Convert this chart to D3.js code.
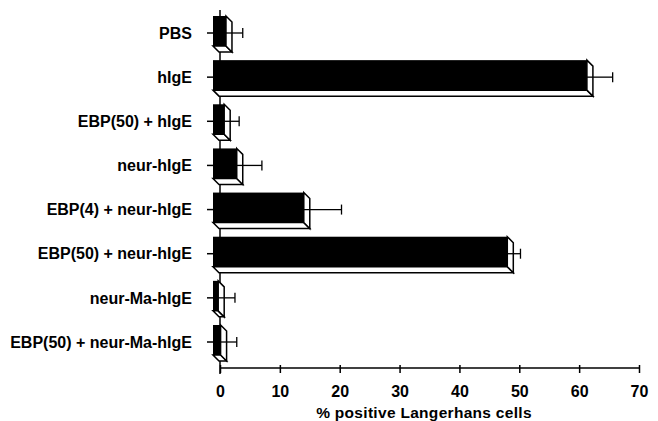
<!DOCTYPE html>
<html>
<head>
<meta charset="utf-8">
<script src="https://cdn.jsdelivr.net/npm/d3@7"></script>
<style>
  body { margin: 0; background: #fff; }
  text { font-family: "Liberation Sans", Arial, sans-serif; font-weight: bold; fill: #000; }
</style>
</head>
<body>
<svg id="chart" width="658" height="421"></svg>
<script>
var categories = ['PBS', 'hIgE', 'EBP(50) + hIgE', 'neur-hIgE', 'EBP(4) + neur-hIgE',
  'EBP(50) + neur-hIgE', 'neur-Ma-hIgE', 'EBP(50) + neur-Ma-hIgE'];
var means = [2, 62.3, 1.7, 3.8, 15, 49, 0.7, 1.1];
var errors = [1.8, 3.3, 1.5, 3.2, 5.3, 1.2, 1.8, 1.7];
var xTicks = [0, 10, 20, 30, 40, 50, 60, 70];
var xTitle = '% positive Langerhans cells';

var svg = d3.select('#chart');
var depth = 6;   // offset of the 3d side faces

var x = d3.scaleLinear().domain([0, 70]).range([220, 639]);
var y = d3.scalePoint().domain(categories).range([33, 342]);

//vertical axis line, bars are drawn over it
svg.append('line')
  .attr('x1', x(0)).attr('x2', x(0))
  .attr('y1', 10).attr('y2', 374)
  .attr('stroke', '#000').attr('stroke-width', 1.5);

//category ticks and labels
var cat = svg.append('g');
cat.selectAll('line').data(categories).enter().append('line')
  .attr('x1', x(0) - 13).attr('x2', x(0) - 6)
  .attr('y1', function (d) { return y(d); })
  .attr('y2', function (d) { return y(d); })
  .attr('stroke', '#000').attr('stroke-width', 1.5);
cat.selectAll('text').data(categories).enter().append('text')
  .attr('x', 192)
  .attr('y', function (d) { return y(d); })
  .attr('dy', '0.36em')
  .attr('text-anchor', 'end')
  .style('font-size', '16px')
  .text(function (d) { return d; });

//x axis
var xAxis = svg.append('g').attr('transform', 'translate(0,368)')
  .call(d3.axisBottom(x).tickValues(xTicks).tickSize(5).tickPadding(13).tickFormat(d3.format('d')));
xAxis.select('.domain').attr('stroke-width', 1.5).attr('d', 'M' + x(0) + ',0H' + x(70));
xAxis.selectAll('.tick line').attr('stroke-width', 1.5).attr('y1', -3);
xAxis.selectAll('.tick text')
  .style('font-family', '"Liberation Sans", Arial, sans-serif')
  .style('font-weight', 'bold')
  .style('font-size', '16px');

svg.append('text')
  .attr('x', 424).attr('y', 418)
  .attr('text-anchor', 'middle')
  .style('font-size', '15.5px')
  .style('letter-spacing', '0.3px')
  .text(xTitle);

//3d bars
var rows = categories.map(function (c, i) { return {cat: c, v: means[i], e: errors[i]}; });
var bar = svg.append('g').selectAll('g').data(rows).enter().append('g');

function face(pts) { return 'M' + pts.map(function (p) { return p.join(','); }).join('L') + 'Z'; }

bar.each(function (d) {
  var g = d3.select(this);
  var c = y(d.cat);
  var x0 = x(0) - depth - 1, x1 = x(d.v) - depth;
  var top = c - 17, bot = c + 13;
  // bottom face
  g.append('path')
    .attr('d', face([[x0, bot], [x1, bot], [x1 + depth, bot + depth], [x0 + depth, bot + depth]]))
    .attr('fill', '#fff').attr('stroke', '#000').attr('stroke-width', 1.5);
  // right face
  g.append('path')
    .attr('d', face([[x1, top], [x1 + depth, top + depth], [x1 + depth, bot + depth], [x1, bot]]))
    .attr('fill', '#fff').attr('stroke', '#000').attr('stroke-width', 1.5);
  // front face
  g.append('rect')
    .attr('x', x0).attr('y', top)
    .attr('width', x1 - x0).attr('height', bot - top)
    .attr('fill', '#000');
  // error bar
  g.append('line')
    .attr('x1', x1).attr('x2', x(d.v + d.e))
    .attr('y1', c).attr('y2', c)
    .attr('stroke', '#000').attr('stroke-width', 1.3);
  g.append('line')
    .attr('x1', x(d.v + d.e)).attr('x2', x(d.v + d.e))
    .attr('y1', c - 5).attr('y2', c + 5)
    .attr('stroke', '#000').attr('stroke-width', 1.3);
});
</script>
</body>
</html>
